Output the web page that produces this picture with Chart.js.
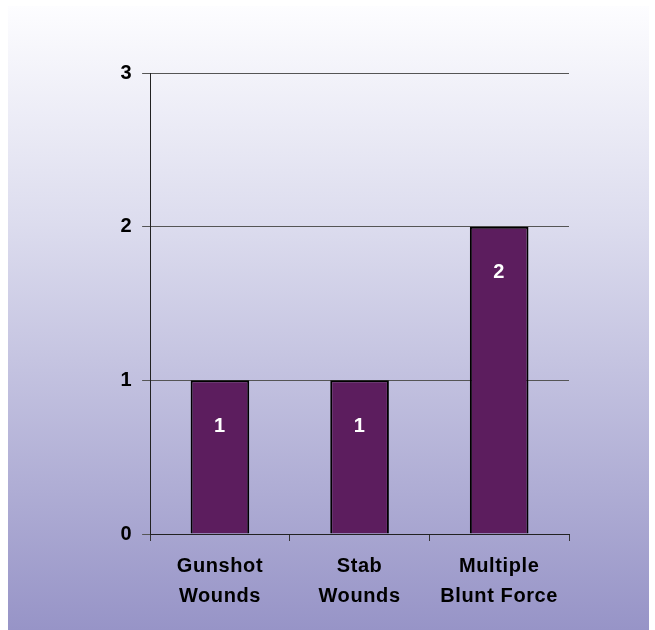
<!DOCTYPE html>
<html>
<head>
<meta charset="utf-8">
<script src="https://cdn.jsdelivr.net/npm/chart.js@4/dist/chart.umd.min.js"></script>
<style>
  html, body { margin: 0; padding: 0; background: #ffffff; }
  #wrap { position: absolute; left: 8px; top: 6px; width: 641px; height: 624px; }
</style>
</head>
<body>
<div id="wrap"><canvas id="c" width="641" height="624"></canvas></div>
<script>
const categories = [["Gunshot", "Wounds"], ["Stab", "Wounds"], ["Multiple", "Blunt Force"]];
const counts = [1, 1, 2];
const yTicks = [0, 1, 2, 3];

const bgPlugin = {
  id: 'bg',
  beforeDraw(chart) {
    const ctx = chart.ctx;
    ctx.letterSpacing = '0.6px';
    const g = ctx.createLinearGradient(0, 0, 0, chart.height);
    g.addColorStop(0, '#fdfdff');
    g.addColorStop(0.35, '#dcdcee');
    g.addColorStop(1, '#9794c7');
    ctx.save();
    ctx.fillStyle = g;
    ctx.fillRect(0, 0, chart.width, chart.height);
    ctx.restore();
  }
};

const labelPlugin = {
  id: 'vals',
  afterDatasetsDraw(chart) {
    const ctx = chart.ctx;
    const meta = chart.getDatasetMeta(0);
    ctx.save();
    ctx.fillStyle = '#ffffff';
    ctx.font = 'bold 20px "Liberation Sans", Arial, sans-serif';
    ctx.textAlign = 'center';
    ctx.textBaseline = 'middle';
    meta.data.forEach((bar, i) => {
      ctx.fillText(String(counts[i]), bar.x, bar.y + 46);
    });
    ctx.restore();
  }
};

new Chart(document.getElementById('c'), {
  type: 'bar',
  data: {
    labels: categories,
    datasets: [{
      data: counts,
      backgroundColor: '#5c1d5e',
      borderColor: '#000000',
      borderWidth: 2,
      barPercentage: 0.42,
      categoryPercentage: 1.0
    }]
  },
  options: {
    responsive: false,
    animation: false,
    layout: { padding: { left: 103, right: 80, top: 67, bottom: 9 } },
    plugins: { legend: { display: false }, tooltip: { enabled: false } },
    scales: {
      x: {
        grid: { offset: true, drawOnChartArea: false, tickLength: 7, color: '#333', lineWidth: 1 },
        border: { display: true, color: '#222', width: 1 },
        ticks: { color: '#000', font: { family: '"Liberation Sans", Arial, sans-serif', size: 20, weight: 'bold', lineHeight: 1.5 }, padding: 10, maxRotation: 0 }
      },
      y: {
        min: 0, max: 3,
        afterBuildTicks(axis) { axis.ticks = yTicks.map(v => ({ value: v })); },
        grid: { color: '#555', lineWidth: 1, tickLength: 8 },
        border: { display: true, color: '#222', width: 1 },
        ticks: { color: '#000', font: { family: '"Liberation Sans", Arial, sans-serif', size: 20, weight: 'bold' }, padding: 10 }
      }
    }
  },
  plugins: [bgPlugin, labelPlugin]
});
</script>
</body>
</html>
